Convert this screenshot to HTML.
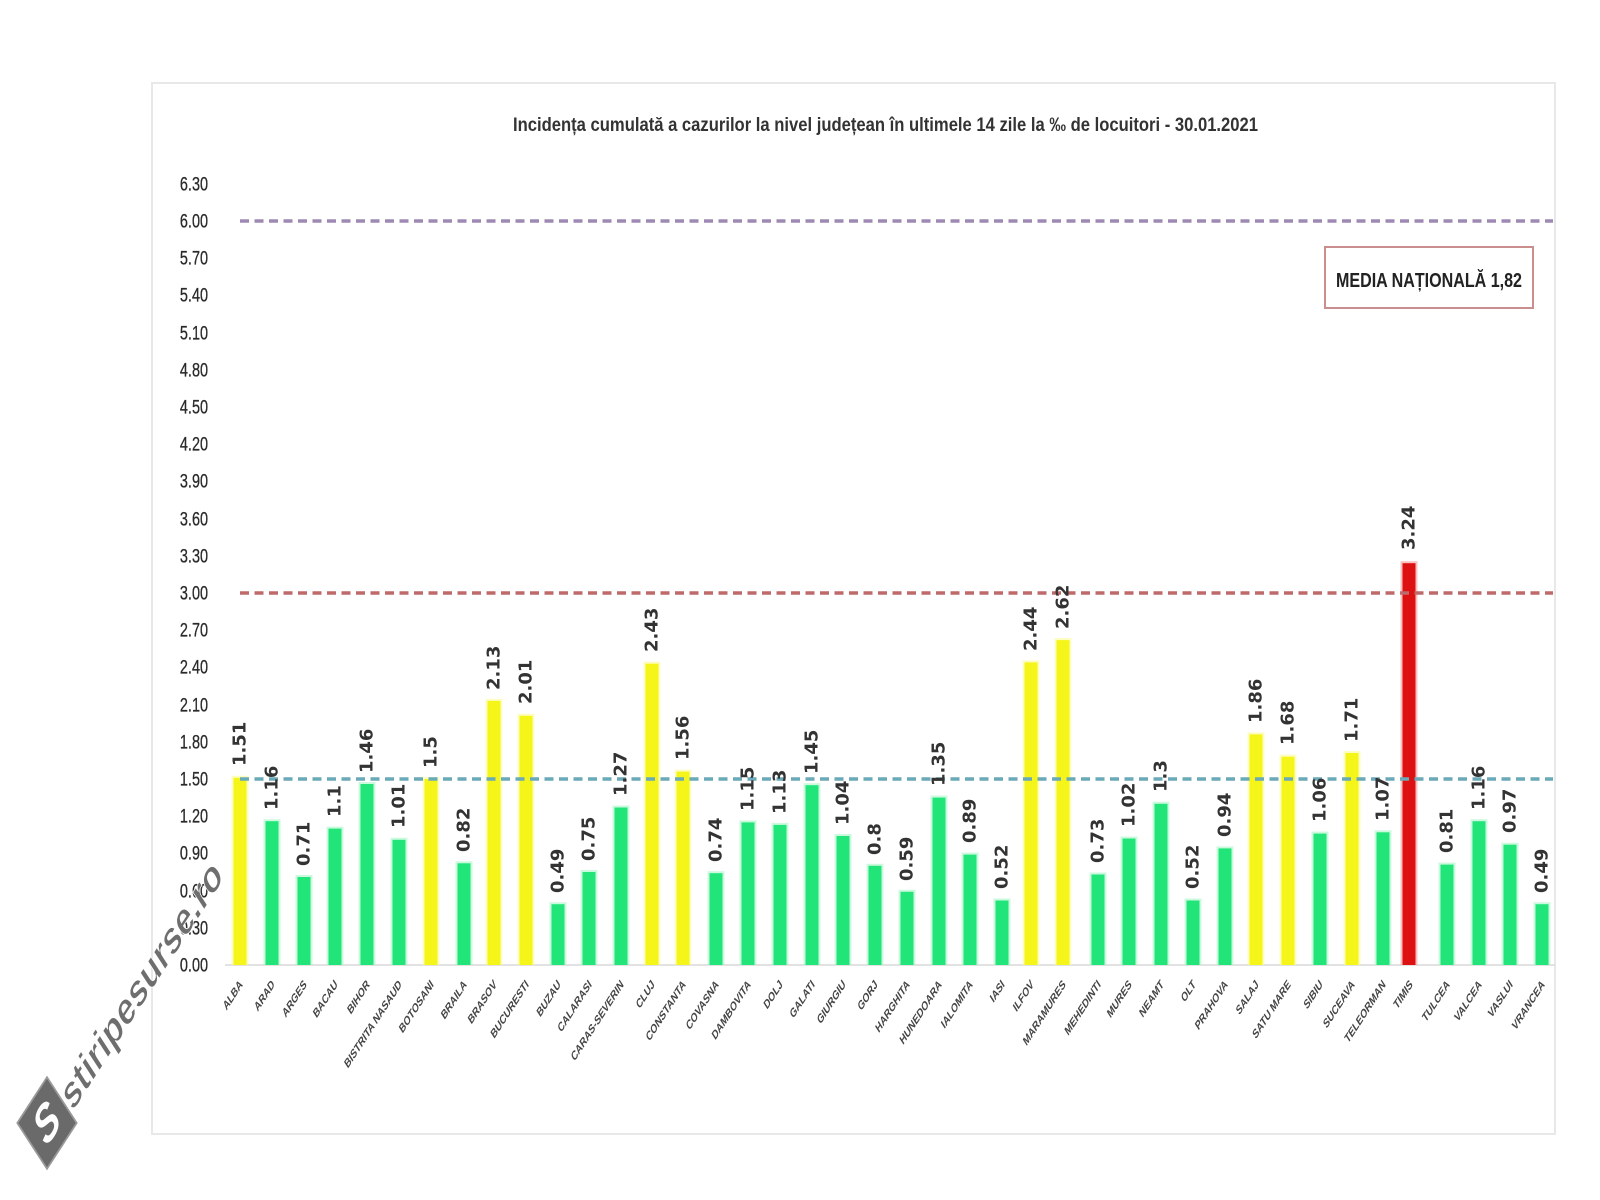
<!DOCTYPE html>
<html><head><meta charset="utf-8"><style>
html,body{margin:0;padding:0;background:#fff;}
svg{display:block;}
</style></head><body>
<svg width="1600" height="1200" viewBox="0 0 1600 1200" xmlns="http://www.w3.org/2000/svg">
<rect x="0" y="0" width="1600" height="1200" fill="#fff"/>
<rect x="152" y="83" width="1403" height="1051" fill="#fff" stroke="#e8e8e8" stroke-width="2"/>

<text x="513" y="131" font-family="Liberation Sans, sans-serif" font-weight="bold" font-size="19" fill="#333" textLength="745" lengthAdjust="spacingAndGlyphs">Incidența cumulată a cazurilor la nivel județean în ultimele 14 zile la ‰ de locuitori - 30.01.2021</text>

<g font-family="Liberation Sans, sans-serif" font-size="19" fill="#2a2a2a" stroke="#2a2a2a" stroke-width="0.3" text-anchor="end">
<g transform="translate(208,184) scale(0.76,1)"><text dy="0.35em">6.30</text></g>
<g transform="translate(208,221) scale(0.76,1)"><text dy="0.35em">6.00</text></g>
<g transform="translate(208,258) scale(0.76,1)"><text dy="0.35em">5.70</text></g>
<g transform="translate(208,295) scale(0.76,1)"><text dy="0.35em">5.40</text></g>
<g transform="translate(208,333) scale(0.76,1)"><text dy="0.35em">5.10</text></g>
<g transform="translate(208,370) scale(0.76,1)"><text dy="0.35em">4.80</text></g>
<g transform="translate(208,407) scale(0.76,1)"><text dy="0.35em">4.50</text></g>
<g transform="translate(208,444) scale(0.76,1)"><text dy="0.35em">4.20</text></g>
<g transform="translate(208,481) scale(0.76,1)"><text dy="0.35em">3.90</text></g>
<g transform="translate(208,519) scale(0.76,1)"><text dy="0.35em">3.60</text></g>
<g transform="translate(208,556) scale(0.76,1)"><text dy="0.35em">3.30</text></g>
<g transform="translate(208,593) scale(0.76,1)"><text dy="0.35em">3.00</text></g>
<g transform="translate(208,630) scale(0.76,1)"><text dy="0.35em">2.70</text></g>
<g transform="translate(208,667) scale(0.76,1)"><text dy="0.35em">2.40</text></g>
<g transform="translate(208,705) scale(0.76,1)"><text dy="0.35em">2.10</text></g>
<g transform="translate(208,742) scale(0.76,1)"><text dy="0.35em">1.80</text></g>
<g transform="translate(208,779) scale(0.76,1)"><text dy="0.35em">1.50</text></g>
<g transform="translate(208,816) scale(0.76,1)"><text dy="0.35em">1.20</text></g>
<g transform="translate(208,853) scale(0.76,1)"><text dy="0.35em">0.90</text></g>
<g transform="translate(208,891) scale(0.76,1)"><text dy="0.35em">0.60</text></g>
<g transform="translate(208,928) scale(0.76,1)"><text dy="0.35em">0.30</text></g>
<g transform="translate(208,965) scale(0.76,1)"><text dy="0.35em">0.00</text></g>
</g>

<line x1="225" y1="965" x2="1555" y2="965" stroke="#d9d9d9" stroke-width="1.5"/>

<!-- bars: glow -->
<g>
<rect x="231.5" y="775.8" width="17" height="189.2" fill="#fbfb9a" opacity="0.6"/>
<rect x="263.5" y="819.2" width="17" height="145.8" fill="#a8f5c6" opacity="0.6"/>
<rect x="295.5" y="875" width="17" height="90" fill="#a8f5c6" opacity="0.6"/>
<rect x="326.5" y="826.6" width="17" height="138.4" fill="#a8f5c6" opacity="0.6"/>
<rect x="358.5" y="782" width="17" height="183" fill="#a8f5c6" opacity="0.6"/>
<rect x="390.5" y="837.8" width="17" height="127.2" fill="#a8f5c6" opacity="0.6"/>
<rect x="422.5" y="777" width="17" height="188" fill="#fbfb9a" opacity="0.6"/>
<rect x="455.5" y="861.3" width="17" height="103.7" fill="#a8f5c6" opacity="0.6"/>
<rect x="485.5" y="698.9" width="17" height="266.1" fill="#fbfb9a" opacity="0.6"/>
<rect x="517.5" y="713.8" width="17" height="251.2" fill="#fbfb9a" opacity="0.6"/>
<rect x="549.5" y="902.2" width="17" height="62.8" fill="#a8f5c6" opacity="0.6"/>
<rect x="580.5" y="870" width="17" height="95" fill="#a8f5c6" opacity="0.6"/>
<rect x="612.5" y="805.5" width="17" height="159.5" fill="#a8f5c6" opacity="0.6"/>
<rect x="643.5" y="661.7" width="17" height="303.3" fill="#fbfb9a" opacity="0.6"/>
<rect x="674.5" y="769.6" width="17" height="195.4" fill="#fbfb9a" opacity="0.6"/>
<rect x="707.5" y="871.2" width="17" height="93.8" fill="#a8f5c6" opacity="0.6"/>
<rect x="739.5" y="820.4" width="17" height="144.6" fill="#a8f5c6" opacity="0.6"/>
<rect x="771.5" y="822.9" width="17" height="142.1" fill="#a8f5c6" opacity="0.6"/>
<rect x="803.5" y="783.2" width="17" height="181.8" fill="#a8f5c6" opacity="0.6"/>
<rect x="834.5" y="834" width="17" height="131" fill="#a8f5c6" opacity="0.6"/>
<rect x="866.5" y="863.8" width="17" height="101.2" fill="#a8f5c6" opacity="0.6"/>
<rect x="898.5" y="889.8" width="17" height="75.2" fill="#a8f5c6" opacity="0.6"/>
<rect x="930.5" y="795.6" width="17" height="169.4" fill="#a8f5c6" opacity="0.6"/>
<rect x="961.5" y="852.6" width="17" height="112.4" fill="#a8f5c6" opacity="0.6"/>
<rect x="993.5" y="898.5" width="17" height="66.5" fill="#a8f5c6" opacity="0.6"/>
<rect x="1022.5" y="660.4" width="17" height="304.6" fill="#fbfb9a" opacity="0.6"/>
<rect x="1054.5" y="638.1" width="17" height="326.9" fill="#fbfb9a" opacity="0.6"/>
<rect x="1089.5" y="872.5" width="17" height="92.5" fill="#a8f5c6" opacity="0.6"/>
<rect x="1120.5" y="836.5" width="17" height="128.5" fill="#a8f5c6" opacity="0.6"/>
<rect x="1152.5" y="801.8" width="17" height="163.2" fill="#a8f5c6" opacity="0.6"/>
<rect x="1184.5" y="898.5" width="17" height="66.5" fill="#a8f5c6" opacity="0.6"/>
<rect x="1216.5" y="846.4" width="17" height="118.6" fill="#a8f5c6" opacity="0.6"/>
<rect x="1247.5" y="732.4" width="17" height="232.6" fill="#fbfb9a" opacity="0.6"/>
<rect x="1279.5" y="754.7" width="17" height="210.3" fill="#fbfb9a" opacity="0.6"/>
<rect x="1311.5" y="831.6" width="17" height="133.4" fill="#a8f5c6" opacity="0.6"/>
<rect x="1343.5" y="751" width="17" height="214" fill="#fbfb9a" opacity="0.6"/>
<rect x="1374.5" y="830.3" width="17" height="134.7" fill="#a8f5c6" opacity="0.6"/>
<rect x="1400.5" y="561.2" width="17" height="403.8" fill="#f39a9a" opacity="0.6"/>
<rect x="1438.5" y="862.6" width="17" height="102.4" fill="#a8f5c6" opacity="0.6"/>
<rect x="1470.5" y="819.2" width="17" height="145.8" fill="#a8f5c6" opacity="0.6"/>
<rect x="1501.5" y="842.7" width="17" height="122.3" fill="#a8f5c6" opacity="0.6"/>
<rect x="1533.5" y="902.2" width="17" height="62.8" fill="#a8f5c6" opacity="0.6"/>
</g>

<!-- bars: core -->
<g>
<rect x="233.5" y="777.8" width="13" height="187.2" fill="#f5f51a"/>
<rect x="265.5" y="821.2" width="13" height="143.8" fill="#22e57a"/>
<rect x="297.5" y="877" width="13" height="88" fill="#22e57a"/>
<rect x="328.5" y="828.6" width="13" height="136.4" fill="#22e57a"/>
<rect x="360.5" y="784" width="13" height="181" fill="#22e57a"/>
<rect x="392.5" y="839.8" width="13" height="125.2" fill="#22e57a"/>
<rect x="424.5" y="779" width="13" height="186" fill="#f5f51a"/>
<rect x="457.5" y="863.3" width="13" height="101.7" fill="#22e57a"/>
<rect x="487.5" y="700.9" width="13" height="264.1" fill="#f5f51a"/>
<rect x="519.5" y="715.8" width="13" height="249.2" fill="#f5f51a"/>
<rect x="551.5" y="904.2" width="13" height="60.8" fill="#22e57a"/>
<rect x="582.5" y="872" width="13" height="93" fill="#22e57a"/>
<rect x="614.5" y="807.5" width="13" height="157.5" fill="#22e57a"/>
<rect x="645.5" y="663.7" width="13" height="301.3" fill="#f5f51a"/>
<rect x="676.5" y="771.6" width="13" height="193.4" fill="#f5f51a"/>
<rect x="709.5" y="873.2" width="13" height="91.8" fill="#22e57a"/>
<rect x="741.5" y="822.4" width="13" height="142.6" fill="#22e57a"/>
<rect x="773.5" y="824.9" width="13" height="140.1" fill="#22e57a"/>
<rect x="805.5" y="785.2" width="13" height="179.8" fill="#22e57a"/>
<rect x="836.5" y="836" width="13" height="129" fill="#22e57a"/>
<rect x="868.5" y="865.8" width="13" height="99.2" fill="#22e57a"/>
<rect x="900.5" y="891.8" width="13" height="73.2" fill="#22e57a"/>
<rect x="932.5" y="797.6" width="13" height="167.4" fill="#22e57a"/>
<rect x="963.5" y="854.6" width="13" height="110.4" fill="#22e57a"/>
<rect x="995.5" y="900.5" width="13" height="64.5" fill="#22e57a"/>
<rect x="1024.5" y="662.4" width="13" height="302.6" fill="#f5f51a"/>
<rect x="1056.5" y="640.1" width="13" height="324.9" fill="#f5f51a"/>
<rect x="1091.5" y="874.5" width="13" height="90.5" fill="#22e57a"/>
<rect x="1122.5" y="838.5" width="13" height="126.5" fill="#22e57a"/>
<rect x="1154.5" y="803.8" width="13" height="161.2" fill="#22e57a"/>
<rect x="1186.5" y="900.5" width="13" height="64.5" fill="#22e57a"/>
<rect x="1218.5" y="848.4" width="13" height="116.6" fill="#22e57a"/>
<rect x="1249.5" y="734.4" width="13" height="230.6" fill="#f5f51a"/>
<rect x="1281.5" y="756.7" width="13" height="208.3" fill="#f5f51a"/>
<rect x="1313.5" y="833.6" width="13" height="131.4" fill="#22e57a"/>
<rect x="1345.5" y="753" width="13" height="212" fill="#f5f51a"/>
<rect x="1376.5" y="832.3" width="13" height="132.7" fill="#22e57a"/>
<rect x="1402.5" y="563.2" width="13" height="401.8" fill="#dd1111"/>
<rect x="1440.5" y="864.6" width="13" height="100.4" fill="#22e57a"/>
<rect x="1472.5" y="821.2" width="13" height="143.8" fill="#22e57a"/>
<rect x="1503.5" y="844.7" width="13" height="120.3" fill="#22e57a"/>
<rect x="1535.5" y="904.2" width="13" height="60.8" fill="#22e57a"/>
</g>

<!-- dashed reference lines -->
<line x1="240" y1="221" x2="1553" y2="221" stroke="#9d8ab3" stroke-width="3.5" stroke-dasharray="9 5.5"/>
<line x1="240" y1="593" x2="1553" y2="593" stroke="#bf6a6a" stroke-width="3.5" stroke-dasharray="9 5.5"/>
<line x1="240" y1="779" x2="1553" y2="779" stroke="#6aa9b7" stroke-width="3.5" stroke-dasharray="9 5.5"/>

<!-- value labels -->
<g font-family="DejaVu Sans, sans-serif" font-weight="bold" font-size="18" fill="#333" dominant-baseline="central">
<text transform="translate(240,766) rotate(-90)">1.51</text>
<text transform="translate(272,810) rotate(-90)">1.16</text>
<text transform="translate(304,866) rotate(-90)">0.71</text>
<text transform="translate(335,817) rotate(-90)">1.1</text>
<text transform="translate(367,773) rotate(-90)">1.46</text>
<text transform="translate(399,828) rotate(-90)">1.01</text>
<text transform="translate(431,768) rotate(-90)">1.5</text>
<text transform="translate(464,852) rotate(-90)">0.82</text>
<text transform="translate(494,690) rotate(-90)">2.13</text>
<text transform="translate(526,704) rotate(-90)">2.01</text>
<text transform="translate(558,893) rotate(-90)">0.49</text>
<text transform="translate(589,861) rotate(-90)">0.75</text>
<text transform="translate(621,796) rotate(-90)">1.27</text>
<text transform="translate(652,652) rotate(-90)">2.43</text>
<text transform="translate(683,760) rotate(-90)">1.56</text>
<text transform="translate(716,862) rotate(-90)">0.74</text>
<text transform="translate(748,811) rotate(-90)">1.15</text>
<text transform="translate(780,814) rotate(-90)">1.13</text>
<text transform="translate(812,774) rotate(-90)">1.45</text>
<text transform="translate(843,825) rotate(-90)">1.04</text>
<text transform="translate(875,855) rotate(-90)">0.8</text>
<text transform="translate(907,881) rotate(-90)">0.59</text>
<text transform="translate(939,786) rotate(-90)">1.35</text>
<text transform="translate(970,843) rotate(-90)">0.89</text>
<text transform="translate(1002,889) rotate(-90)">0.52</text>
<text transform="translate(1031,651) rotate(-90)">2.44</text>
<text transform="translate(1063,629) rotate(-90)">2.62</text>
<text transform="translate(1098,863) rotate(-90)">0.73</text>
<text transform="translate(1129,827) rotate(-90)">1.02</text>
<text transform="translate(1161,792) rotate(-90)">1.3</text>
<text transform="translate(1193,889) rotate(-90)">0.52</text>
<text transform="translate(1225,837) rotate(-90)">0.94</text>
<text transform="translate(1256,723) rotate(-90)">1.86</text>
<text transform="translate(1288,745) rotate(-90)">1.68</text>
<text transform="translate(1320,822) rotate(-90)">1.06</text>
<text transform="translate(1352,742) rotate(-90)">1.71</text>
<text transform="translate(1383,821) rotate(-90)">1.07</text>
<text transform="translate(1409,550) rotate(-90)">3.24</text>
<text transform="translate(1447,853) rotate(-90)">0.81</text>
<text transform="translate(1479,810) rotate(-90)">1.16</text>
<text transform="translate(1510,833) rotate(-90)">0.97</text>
<text transform="translate(1542,893) rotate(-90)">0.49</text>
</g>

<!-- x-axis category labels -->
<g font-family="Liberation Sans, sans-serif" font-weight="bold" font-size="8.5" fill="#454545" text-anchor="end">
<text transform="translate(241,982) scale(1,1.54) rotate(-45)" dy="0.35em">ALBA</text>
<text transform="translate(273,982) scale(1,1.54) rotate(-45)" dy="0.35em">ARAD</text>
<text transform="translate(305,982) scale(1,1.54) rotate(-45)" dy="0.35em">ARGES</text>
<text transform="translate(336,982) scale(1,1.54) rotate(-45)" dy="0.35em">BACAU</text>
<text transform="translate(368,982) scale(1,1.54) rotate(-45)" dy="0.35em">BIHOR</text>
<text transform="translate(400,982) scale(1,1.54) rotate(-45)" dy="0.35em">BISTRITA NASAUD</text>
<text transform="translate(432,982) scale(1,1.54) rotate(-45)" dy="0.35em">BOTOSANI</text>
<text transform="translate(465,982) scale(1,1.54) rotate(-45)" dy="0.35em">BRAILA</text>
<text transform="translate(495,982) scale(1,1.54) rotate(-45)" dy="0.35em">BRASOV</text>
<text transform="translate(527,982) scale(1,1.54) rotate(-45)" dy="0.35em">BUCURESTI</text>
<text transform="translate(559,982) scale(1,1.54) rotate(-45)" dy="0.35em">BUZAU</text>
<text transform="translate(590,982) scale(1,1.54) rotate(-45)" dy="0.35em">CALARASI</text>
<text transform="translate(622,982) scale(1,1.54) rotate(-45)" dy="0.35em">CARAS-SEVERIN</text>
<text transform="translate(653,982) scale(1,1.54) rotate(-45)" dy="0.35em">CLUJ</text>
<text transform="translate(684,982) scale(1,1.54) rotate(-45)" dy="0.35em">CONSTANTA</text>
<text transform="translate(717,982) scale(1,1.54) rotate(-45)" dy="0.35em">COVASNA</text>
<text transform="translate(749,982) scale(1,1.54) rotate(-45)" dy="0.35em">DAMBOVITA</text>
<text transform="translate(781,982) scale(1,1.54) rotate(-45)" dy="0.35em">DOLJ</text>
<text transform="translate(813,982) scale(1,1.54) rotate(-45)" dy="0.35em">GALATI</text>
<text transform="translate(844,982) scale(1,1.54) rotate(-45)" dy="0.35em">GIURGIU</text>
<text transform="translate(876,982) scale(1,1.54) rotate(-45)" dy="0.35em">GORJ</text>
<text transform="translate(908,982) scale(1,1.54) rotate(-45)" dy="0.35em">HARGHITA</text>
<text transform="translate(940,982) scale(1,1.54) rotate(-45)" dy="0.35em">HUNEDOARA</text>
<text transform="translate(971,982) scale(1,1.54) rotate(-45)" dy="0.35em">IALOMITA</text>
<text transform="translate(1003,982) scale(1,1.54) rotate(-45)" dy="0.35em">IASI</text>
<text transform="translate(1032,982) scale(1,1.54) rotate(-45)" dy="0.35em">ILFOV</text>
<text transform="translate(1064,982) scale(1,1.54) rotate(-45)" dy="0.35em">MARAMURES</text>
<text transform="translate(1099,982) scale(1,1.54) rotate(-45)" dy="0.35em">MEHEDINTI</text>
<text transform="translate(1130,982) scale(1,1.54) rotate(-45)" dy="0.35em">MURES</text>
<text transform="translate(1162,982) scale(1,1.54) rotate(-45)" dy="0.35em">NEAMT</text>
<text transform="translate(1194,982) scale(1,1.54) rotate(-45)" dy="0.35em">OLT</text>
<text transform="translate(1226,982) scale(1,1.54) rotate(-45)" dy="0.35em">PRAHOVA</text>
<text transform="translate(1257,982) scale(1,1.54) rotate(-45)" dy="0.35em">SALAJ</text>
<text transform="translate(1289,982) scale(1,1.54) rotate(-45)" dy="0.35em">SATU MARE</text>
<text transform="translate(1321,982) scale(1,1.54) rotate(-45)" dy="0.35em">SIBIU</text>
<text transform="translate(1353,982) scale(1,1.54) rotate(-45)" dy="0.35em">SUCEAVA</text>
<text transform="translate(1384,982) scale(1,1.54) rotate(-45)" dy="0.35em">TELEORMAN</text>
<text transform="translate(1411,982) scale(1,1.54) rotate(-45)" dy="0.35em">TIMIS</text>
<text transform="translate(1448,982) scale(1,1.54) rotate(-45)" dy="0.35em">TULCEA</text>
<text transform="translate(1480,982) scale(1,1.54) rotate(-45)" dy="0.35em">VALCEA</text>
<text transform="translate(1511,982) scale(1,1.54) rotate(-45)" dy="0.35em">VASLUI</text>
<text transform="translate(1543,982) scale(1,1.54) rotate(-45)" dy="0.35em">VRANCEA</text>
</g>

<!-- Media nationala box -->
<rect x="1325" y="247" width="208" height="61" fill="#fff" stroke="#c98f8f" stroke-width="2"/>
<text x="1336" y="287" font-family="Liberation Sans, sans-serif" font-weight="bold" font-size="20" fill="#222" textLength="186" lengthAdjust="spacingAndGlyphs">MEDIA NAȚIONALĂ  1,82</text>

<!-- watermark -->
<g transform="translate(47,1123) scale(1,1.54) rotate(-45)">
<rect x="-21" y="-21" width="42" height="42" fill="#6a6a6a" stroke="#9a9a9a" stroke-width="1.5"/>
<text x="0" y="11" text-anchor="middle" font-family="Liberation Sans, sans-serif" font-weight="bold" font-style="italic" font-size="34" fill="#fff">S</text>
<text x="23" y="13" font-family="Liberation Sans, sans-serif" font-weight="bold" font-size="30" fill="#6e6e6e" stroke="#ffffff" stroke-width="0.6" textLength="215" lengthAdjust="spacingAndGlyphs">stiripesurse.ro</text>
</g>
</svg>
</body></html>
